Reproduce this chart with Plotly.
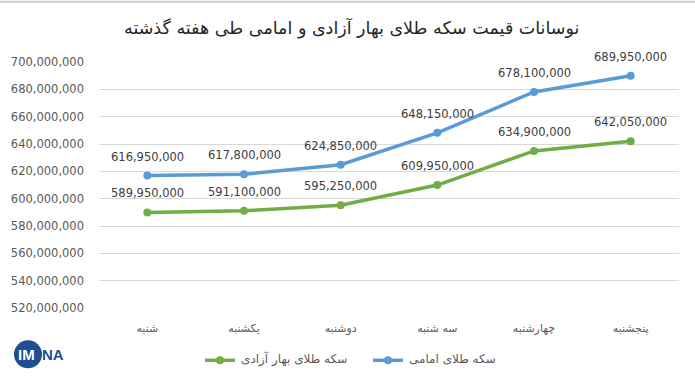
import plotly.graph_objects as go

days = ["شنبه", "یکشنبه", "دوشنبه", "سه شنبه", "چهارشنبه", "پنجشنبه"]
emami = [616950000, 617800000, 624850000, 648150000, 678100000, 689950000]
bahar = [589950000, 591100000, 595250000, 609950000, 634900000, 642050000]
name_emami = "سکه طلای امامی"
name_bahar = "سکه طلای بهار آزادی"
title = "نوسانات قیمت سکه طلای بهار آزادی و امامی طی هفته گذشته"
ytickvals = list(range(520000000, 700000001, 20000000))

BLUE = "#5B9BD5"
GREEN = "#70AD47"
GRAY = "#595959"
NUMFONT = "DejaVu Sans"
ARFONT = "DejaVu Sans"

W, H = 695, 383
L, R, T, B = 99, 16, 61.5, 74.5

def px(x):
    return (x - L) / (W - L - R)

def py(y):
    return (H - B - y) / (H - T - B)

fig = go.Figure()
fig.add_trace(go.Scatter(x=days, y=bahar, name=name_bahar, mode="lines+markers",
                         line=dict(color=GREEN, width=3.5), marker=dict(size=8, color=GREEN)))
fig.add_trace(go.Scatter(x=days, y=emami, name=name_emami, mode="lines+markers",
                         line=dict(color=BLUE, width=3.5), marker=dict(size=8, color=BLUE)))

for series in (emami, bahar):
    for d, v in zip(days, series):
        fig.add_annotation(x=d, y=v, text=f"{v:,}", showarrow=False, yshift=19,
                           xanchor="center", yanchor="middle",
                           font=dict(family=NUMFONT, size=11.5, color="#404040"))

# title
fig.add_annotation(xref="paper", yref="paper", x=px(351), y=py(27), text=title,
                   showarrow=False, xanchor="center", yanchor="middle",
                   font=dict(family=ARFONT, size=17.5, color="#262626"))

# custom legend (symbol left, text right)
legend_items = [(name_bahar, GREEN, 205), (name_emami, BLUE, 373)]
for name, color, x0 in legend_items:
    fig.add_shape(type="line", xref="paper", yref="paper", x0=px(x0), x1=px(x0 + 30),
                  y0=py(361), y1=py(361), line=dict(color=color, width=3.5))
    fig.add_shape(type="circle", xref="paper", yref="paper", x0=px(x0 + 11), x1=px(x0 + 19),
                  y0=py(365), y1=py(357), fillcolor=color, line=dict(width=0))
    fig.add_annotation(xref="paper", yref="paper", x=px(x0 + 34), y=py(360), text=name,
                       showarrow=False, xanchor="left", yanchor="middle",
                       font=dict(family=ARFONT, size=12, color=GRAY))

# logo
fig.add_shape(type="circle", xref="paper", yref="paper", x0=px(14), x1=px(42), y0=py(369), y1=py(341),
              fillcolor="#1d4f91", line=dict(width=0))
fig.add_annotation(xref="paper", yref="paper", x=px(16), y=py(355), text="<b>IM</b>",
                   showarrow=False, xanchor="left", yanchor="middle",
                   font=dict(family="Liberation Sans", size=15, color="#ffffff"))
fig.add_annotation(xref="paper", yref="paper", x=px(40), y=py(355), text="<b>NA</b>",
                   showarrow=False, xanchor="left", yanchor="middle",
                   font=dict(family="Liberation Sans", size=15, color="#1d4f91"))

# top border
fig.add_shape(type="line", xref="paper", yref="paper", x0=px(0), x1=px(W), y0=py(1), y1=py(1),
              line=dict(color="#d0d0d0", width=2))

fig.update_layout(
    width=W, height=H,
    margin=dict(l=L, r=R, t=T, b=B, autoexpand=False),
    paper_bgcolor="white", plot_bgcolor="white",
    showlegend=False,
    xaxis=dict(range=[-0.5, len(days) - 0.5], showgrid=False, showline=False, zeroline=False,
               ticks="", automargin=False,
               tickfont=dict(family=ARFONT, size=11, color=GRAY), ticklabelstandoff=12),
    yaxis=dict(range=[520000000, 700000000], tickvals=ytickvals, tickformat=",d", automargin=False,
               showgrid=True, gridcolor="#d9d9d9", gridwidth=1, zeroline=False, showline=False,
               tickfont=dict(family=NUMFONT, size=11.5, color=GRAY), ticklabelstandoff=14),
)

fig.write_html("out.html", config={"displayModeBar": False},
               post_script="document.body.style.margin='0';document.body.style.overflow='hidden';")
